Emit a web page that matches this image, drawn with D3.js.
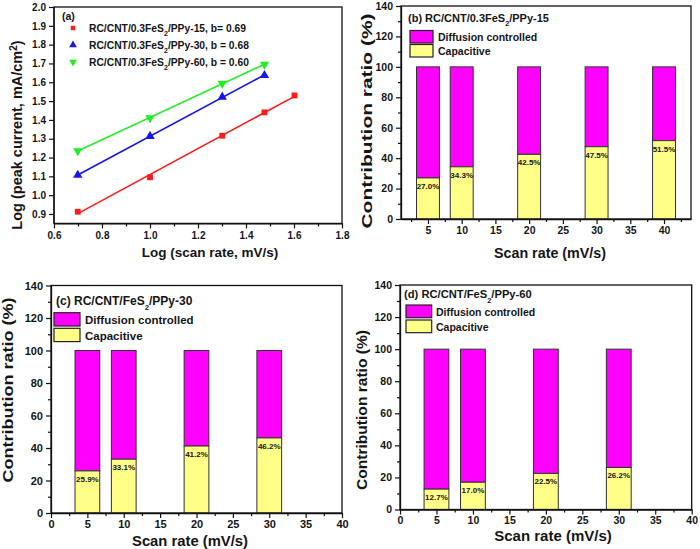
<!DOCTYPE html>
<html><head><meta charset="utf-8">
<script src="https://cdn.jsdelivr.net/npm/d3@7"></script>
<style>
body{margin:0;background:#fff}
svg{display:block}
text{font-family:Arial,"Liberation Sans",sans-serif;font-weight:bold;fill:#151515}
</style>
</head><body>
<svg id="chart" width="700" height="549"></svg>
<script>
// ---------- Panel (a) data ----------
const logScanRate = [0.699, 1.0, 1.301, 1.477, 1.602];
const logIpeak15 = [0.912, 1.095, 1.316, 1.440, 1.530];
const logIpeak30 = [1.107, 1.313, 1.522, 1.637];
const logIpeak60 = [1.235, 1.411, 1.594, 1.695];
const seriesLabelsA = ["RC/CNT/0.3FeS|2|/PPy-15, b= 0.69", "RC/CNT/0.3FeS|2|/PPy-30, b = 0.68", "RC/CNT/0.3FeS|2|/PPy-60, b = 0.60"];
const seriesColorsA = ["#ff1a1a", "#1515ee", "#22ee22"];
const xTicksA = [0.6, 0.8, 1.0, 1.2, 1.4, 1.6, 1.8];
const xMinorA = [0.7, 0.9, 1.1, 1.3, 1.5, 1.7];
const yTicksA = [0.9, 1.0, 1.1, 1.2, 1.3, 1.4, 1.5, 1.6, 1.7, 1.8, 1.9, 2.0];

// ---------- Panels (b)(c)(d) data ----------
const scanRatesB = [5, 10, 20, 30, 40];
const capB = [27.0, 34.3, 42.5, 47.5, 51.5];
const diffB = [73.0, 65.7, 57.5, 52.5, 48.5];
const scanRatesC = [5, 10, 20, 30];
const capC = [25.9, 33.1, 41.2, 46.2];
const diffC = [74.1, 66.9, 58.8, 53.8];
const scanRatesD = [5, 10, 20, 30];
const capD = [12.7, 17.0, 22.5, 26.2];
const diffD = [87.3, 83.0, 77.5, 73.8];
const xTicksB = [5, 10, 15, 20, 25, 30, 35, 40];
const xMinorB = [2.5, 7.5, 12.5, 17.5, 22.5, 27.5, 32.5, 37.5, 42.5];
const xTicksCD = [0, 5, 10, 15, 20, 25, 30, 35, 40];
const xMinorCD = [2.5, 7.5, 12.5, 17.5, 22.5, 27.5, 32.5, 37.5];
const yTicksBar = [0, 20, 40, 60, 80, 100, 120, 140];
const yMinorBar = [10, 30, 50, 70, 90, 110, 130];
const legendLabels = ["Diffusion controlled", "Capacitive"];
const barColors = ["#ff00ff", "#ffff88"];

const svg = d3.select("#chart");

function addSubText(sel, str, subSize, shift) {
  const parts = str.split("|");
  parts.forEach((p, i) => {
    const t = sel.append("tspan").text(p);
    if (i % 2 === 1) t.attr("font-size", subSize).attr("baseline-shift", shift);
  });
}

function styleAxis(g, fs) {
  g.select(".domain").attr("stroke", "#111").attr("stroke-width", 1.3);
  g.selectAll(".tick line").attr("stroke", "#111").attr("stroke-width", 1.2);
  g.selectAll(".tick text").attr("font-size", fs).attr("font-weight", "bold")
    .attr("font-family", 'Arial,"Liberation Sans",sans-serif').attr("fill", "#151515");
}

// ---------- Panel (a) ----------
(function () {
  const x = d3.scaleLinear().domain([0.6, 1.8]).range([54, 342]);
  const y = d3.scaleLinear().domain([0.9, 2.0]).range([214, 7]);
  const yBot = y(0.85);
  const g = svg.append("g");

  const gx = g.append("g").attr("transform", `translate(0,${yBot})`)
    .call(d3.axisBottom(x).tickValues(xTicksA).tickSize(5).tickSizeOuter(0).tickPadding(3).tickFormat(d3.format(".1f")));
  styleAxis(gx, 10);
  const gxm = g.append("g").attr("transform", `translate(0,${yBot})`)
    .call(d3.axisBottom(x).tickValues(xMinorA).tickSize(3).tickSizeOuter(0).tickFormat(""));
  styleAxis(gxm, 10); gxm.select(".domain").remove();

  const gy = g.append("g").attr("transform", `translate(54,0)`)
    .call(d3.axisLeft(y).tickValues(yTicksA).tickSize(5).tickSizeOuter(0).tickPadding(3).tickFormat(d3.format(".1f")));
  styleAxis(gy, 10);
  gy.select(".domain").attr("d", `M0,${yBot}V${y(2.0)}`);

  g.append("rect").attr("x", 54).attr("y", y(2.0)).attr("width", 342 - 54).attr("height", yBot - y(2.0))
    .attr("fill", "none").attr("stroke", "#111").attr("stroke-width", 1.3);

  const series = [logIpeak15, logIpeak30, logIpeak60];
  const symbols = [d3.symbol(d3.symbolSquare, 34), d3.symbol(d3.symbolTriangle, 38), d3.symbol(d3.symbolTriangle, 38)];
  series.forEach((ys, si) => {
    const xs = logScanRate.slice(0, ys.length);
    const n = xs.length, mx = d3.mean(xs), my = d3.mean(ys);
    const slope = d3.sum(xs.map((v, i) => (v - mx) * (ys[i] - my))) / d3.sum(xs.map(v => (v - mx) ** 2));
    const icpt = my - slope * mx;
    const x0 = xs[0], x1 = xs[n - 1];
    g.append("line").attr("x1", x(x0)).attr("y1", y(icpt + slope * x0)).attr("x2", x(x1)).attr("y2", y(icpt + slope * x1))
      .attr("stroke", seriesColorsA[si]).attr("stroke-width", 1.6);
    g.selectAll(null).data(xs.map((v, i) => [v, ys[i]])).enter().append("path")
      .attr("d", symbols[si]).attr("fill", seriesColorsA[si])
      .attr("transform", d => `translate(${x(d[0])},${y(d[1])})` + (si === 2 ? " rotate(180)" : ""));
  });

  g.append("text").attr("x", 62).attr("y", 20).attr("font-size", 10.5).text("(a)");
  seriesLabelsA.forEach((lab, i) => {
    const yy = 28 + i * 17;
    g.append("path").attr("d", d3.symbol(i === 0 ? d3.symbolSquare : d3.symbolTriangle, i === 0 ? 20 : 26))
      .attr("fill", seriesColorsA[i]).attr("transform", `translate(73,${yy})` + (i === 2 ? " rotate(180)" : ""));
    const t = g.append("text").attr("x", 89).attr("y", yy + 4).attr("font-size", 10.3);
    addSubText(t, lab, 7, "sub");
  });

  g.append("text").attr("x", 210).attr("y", 256.5).attr("text-anchor", "middle").attr("font-size", 13.5)
    .text("Log (scan rate, mV/s)");
  const yt = g.append("text").attr("transform", "translate(22,135) rotate(-90)").attr("text-anchor", "middle")
    .attr("font-size", 14.5);
  addSubText(yt, "Log (peak current, mA/cm|2|)", 10, "super");
})();

// ---------- Bar panels ----------
function barPanel(o) {
  const x = d3.scaleLinear().domain(o.xd).range([o.l, o.r]);
  const y = d3.scaleLinear().domain([0, 140]).range([o.b, o.t]);
  const g = svg.append("g");

  const gx = g.append("g").attr("transform", `translate(0,${o.b})`)
    .call(d3.axisBottom(x).tickValues(o.xTicks).tickSize(5).tickSizeOuter(0).tickPadding(o.xPad));
  styleAxis(gx, o.tickFs);
  const gxm = g.append("g").attr("transform", `translate(0,${o.b})`)
    .call(d3.axisBottom(x).tickValues(o.xMinor).tickSize(3).tickSizeOuter(0).tickFormat(""));
  styleAxis(gxm, o.tickFs); gxm.select(".domain").remove();
  const gy = g.append("g").attr("transform", `translate(${o.l},0)`)
    .call(d3.axisLeft(y).tickValues(yTicksBar).tickSize(5).tickSizeOuter(0).tickPadding(3));
  styleAxis(gy, o.tickFs);
  const gym = g.append("g").attr("transform", `translate(${o.l},0)`)
    .call(d3.axisLeft(y).tickValues(yMinorBar).tickSize(3).tickSizeOuter(0).tickFormat(""));
  styleAxis(gym, o.tickFs); gym.select(".domain").remove();

  const bw = 3.4;
  const rows = o.rates.map((r, i) => ({ r, cap: o.cap[i], diff: o.diff[i] }));
  g.selectAll(null).data(rows).enter().append("rect")
    .attr("x", d => x(d.r - bw / 2)).attr("width", d => x(d.r + bw / 2) - x(d.r - bw / 2))
    .attr("y", d => y(d.cap + d.diff)).attr("height", d => y(d.cap) - y(d.cap + d.diff))
    .attr("fill", barColors[0]).attr("stroke", "#333").attr("stroke-width", 1);
  g.selectAll(null).data(rows).enter().append("rect")
    .attr("x", d => x(d.r - bw / 2)).attr("width", d => x(d.r + bw / 2) - x(d.r - bw / 2))
    .attr("y", d => y(d.cap)).attr("height", d => y(0) - y(d.cap))
    .attr("fill", barColors[1]).attr("stroke", "#333").attr("stroke-width", 1);
  g.selectAll(null).data(rows).enter().append("text")
    .attr("x", d => x(d.r)).attr("y", d => y(d.cap) + 11).attr("text-anchor", "middle")
    .attr("font-size", 8).attr("fill", "#333").text(d => d.cap.toFixed(1) + "%");

  g.append("rect").attr("x", o.l).attr("y", o.t).attr("width", o.r - o.l).attr("height", o.b - o.t)
    .attr("fill", "none").attr("stroke", "#111").attr("stroke-width", 1.3);

  const tt = g.append("text").attr("x", o.title[0]).attr("y", o.title[1]).attr("font-size", o.titleFs);
  addSubText(tt, o.titleText, o.titleFs * 0.65, "sub");
  legendLabels.forEach((lab, i) => {
    g.append("rect").attr("x", o.box[0]).attr("y", o.box[1] + i * o.box[4]).attr("width", o.box[2]).attr("height", o.box[3])
      .attr("fill", barColors[i]).attr("stroke", "#222").attr("stroke-width", 1.2);
    g.append("text").attr("x", o.legText[0]).attr("y", o.legText[1] + i * o.box[4]).attr("font-size", o.legFs).text(lab);
  });

  g.append("text").attr("x", o.xTitle[0]).attr("y", o.xTitle[1]).attr("text-anchor", "middle")
    .attr("font-size", o.xTitle[2]).text("Scan rate (mV/s)");
  g.append("text").attr("transform", `translate(${o.yTitle[0]},${o.yTitle[1]}) rotate(-90)`).attr("text-anchor", "middle")
    .attr("font-size", o.yTitle[2]).attr("textLength", o.yTitle[3]).attr("lengthAdjust", "spacingAndGlyphs")
    .text("Contribution ratio (%)");
}

barPanel({
  xd: [1, 44], l: 401, r: 691, t: 6, b: 219, xTicks: xTicksB, xMinor: xMinorB, tickFs: 10.5, xPad: 3,
  rates: scanRatesB, cap: capB, diff: diffB,
  title: [408, 22], titleFs: 11, titleText: "(b) RC/CNT/0.3FeS|2|/PPy-15",
  box: [410, 30.5, 23, 12.5, 14], legText: [438, 40.8], legFs: 10.5,
  xTitle: [550, 258, 14.3], yTitle: [372, 121, 15, 215]
});
barPanel({
  xd: [0, 40], l: 51, r: 342, t: 285.5, b: 513, xTicks: xTicksCD, xMinor: xMinorCD, tickFs: 11, xPad: 2,
  rates: scanRatesC, cap: capC, diff: diffC,
  title: [56, 305], titleFs: 12, titleText: "(c) RC/CNT/FeS|2|/PPy-30",
  box: [54, 312.7, 26, 13.3, 15.6], legText: [85, 324.3], legFs: 11.5,
  xTitle: [190, 545.5, 14.8], yTitle: [13, 390, 15, 185]
});
barPanel({
  xd: [0, 40], l: 400, r: 691.7, t: 285, b: 509.5, xTicks: xTicksCD, xMinor: xMinorCD, tickFs: 10.5, xPad: 2,
  rates: scanRatesD, cap: capD, diff: diffD,
  title: [404, 297.5], titleFs: 11.2, titleText: "(d) RC/CNT/FeS|2|/PPy-60",
  box: [406, 305, 25.7, 12.7, 15], legText: [436, 315.8], legFs: 10.5,
  xTitle: [553, 541, 15], yTitle: [367, 410, 15, 160]
});
</script>
</body></html>
